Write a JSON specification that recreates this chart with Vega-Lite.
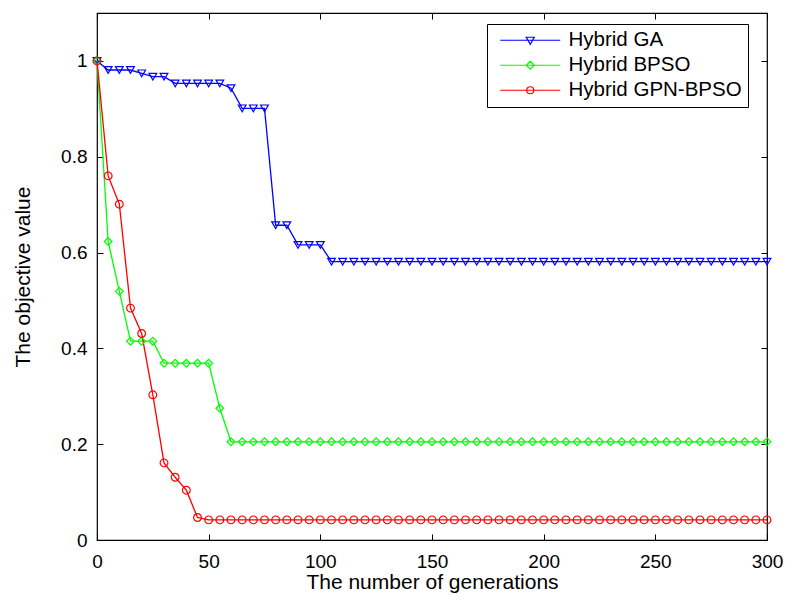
{
  "$schema": "https://vega.github.io/schema/vega-lite/v6.json",
  "autosize": {"type": "none"},
  "padding": {"left": 97, "top": 13, "right": 18, "bottom": 68},
  "width": 670,
  "height": 527,
  "background": "white",
  "config": {
    "view": {"stroke": "#000000", "strokeWidth": 1.2},
    "font": "Liberation Sans",
    "axis": {
      "domain": false,
      "grid": false,
      "labelFlush": false,
      "tickColor": "#000000",
      "tickSize": -6,
      "tickWidth": 1,
      "labelColor": "#000000",
      "labelFont": "Liberation Sans",
      "labelFontSize": 19,
      "titleFont": "Liberation Sans",
      "titleFontSize": 21,
      "titleFontWeight": "normal",
      "titleColor": "#000000"
    },
    "legend": {
      "labelFont": "Liberation Sans",
      "labelFontSize": 20.5,
      "labelColor": "#000000",
      "labelLimit": 400
    }
  },
  "data": {
    "values": [
      {"series": "Hybrid GA", "gen": 0, "value": 1},
      {"series": "Hybrid GA", "gen": 5, "value": 0.981},
      {"series": "Hybrid GA", "gen": 10, "value": 0.981},
      {"series": "Hybrid GA", "gen": 15, "value": 0.981},
      {"series": "Hybrid GA", "gen": 20, "value": 0.974},
      {"series": "Hybrid GA", "gen": 25, "value": 0.967},
      {"series": "Hybrid GA", "gen": 30, "value": 0.967},
      {"series": "Hybrid GA", "gen": 35, "value": 0.953},
      {"series": "Hybrid GA", "gen": 40, "value": 0.953},
      {"series": "Hybrid GA", "gen": 45, "value": 0.953},
      {"series": "Hybrid GA", "gen": 50, "value": 0.953},
      {"series": "Hybrid GA", "gen": 55, "value": 0.953},
      {"series": "Hybrid GA", "gen": 60, "value": 0.943},
      {"series": "Hybrid GA", "gen": 65, "value": 0.901},
      {"series": "Hybrid GA", "gen": 70, "value": 0.901},
      {"series": "Hybrid GA", "gen": 75, "value": 0.901},
      {"series": "Hybrid GA", "gen": 80, "value": 0.657},
      {"series": "Hybrid GA", "gen": 85, "value": 0.657},
      {"series": "Hybrid GA", "gen": 90, "value": 0.616},
      {"series": "Hybrid GA", "gen": 95, "value": 0.616},
      {"series": "Hybrid GA", "gen": 100, "value": 0.616},
      {"series": "Hybrid GA", "gen": 105, "value": 0.581},
      {"series": "Hybrid GA", "gen": 110, "value": 0.581},
      {"series": "Hybrid GA", "gen": 115, "value": 0.581},
      {"series": "Hybrid GA", "gen": 120, "value": 0.581},
      {"series": "Hybrid GA", "gen": 125, "value": 0.581},
      {"series": "Hybrid GA", "gen": 130, "value": 0.581},
      {"series": "Hybrid GA", "gen": 135, "value": 0.581},
      {"series": "Hybrid GA", "gen": 140, "value": 0.581},
      {"series": "Hybrid GA", "gen": 145, "value": 0.581},
      {"series": "Hybrid GA", "gen": 150, "value": 0.581},
      {"series": "Hybrid GA", "gen": 155, "value": 0.581},
      {"series": "Hybrid GA", "gen": 160, "value": 0.581},
      {"series": "Hybrid GA", "gen": 165, "value": 0.581},
      {"series": "Hybrid GA", "gen": 170, "value": 0.581},
      {"series": "Hybrid GA", "gen": 175, "value": 0.581},
      {"series": "Hybrid GA", "gen": 180, "value": 0.581},
      {"series": "Hybrid GA", "gen": 185, "value": 0.581},
      {"series": "Hybrid GA", "gen": 190, "value": 0.581},
      {"series": "Hybrid GA", "gen": 195, "value": 0.581},
      {"series": "Hybrid GA", "gen": 200, "value": 0.581},
      {"series": "Hybrid GA", "gen": 205, "value": 0.581},
      {"series": "Hybrid GA", "gen": 210, "value": 0.581},
      {"series": "Hybrid GA", "gen": 215, "value": 0.581},
      {"series": "Hybrid GA", "gen": 220, "value": 0.581},
      {"series": "Hybrid GA", "gen": 225, "value": 0.581},
      {"series": "Hybrid GA", "gen": 230, "value": 0.581},
      {"series": "Hybrid GA", "gen": 235, "value": 0.581},
      {"series": "Hybrid GA", "gen": 240, "value": 0.581},
      {"series": "Hybrid GA", "gen": 245, "value": 0.581},
      {"series": "Hybrid GA", "gen": 250, "value": 0.581},
      {"series": "Hybrid GA", "gen": 255, "value": 0.581},
      {"series": "Hybrid GA", "gen": 260, "value": 0.581},
      {"series": "Hybrid GA", "gen": 265, "value": 0.581},
      {"series": "Hybrid GA", "gen": 270, "value": 0.581},
      {"series": "Hybrid GA", "gen": 275, "value": 0.581},
      {"series": "Hybrid GA", "gen": 280, "value": 0.581},
      {"series": "Hybrid GA", "gen": 285, "value": 0.581},
      {"series": "Hybrid GA", "gen": 290, "value": 0.581},
      {"series": "Hybrid GA", "gen": 295, "value": 0.581},
      {"series": "Hybrid GA", "gen": 300, "value": 0.581},
      {"series": "Hybrid BPSO", "gen": 0, "value": 1},
      {"series": "Hybrid BPSO", "gen": 5, "value": 0.623},
      {"series": "Hybrid BPSO", "gen": 10, "value": 0.519},
      {"series": "Hybrid BPSO", "gen": 15, "value": 0.415},
      {"series": "Hybrid BPSO", "gen": 20, "value": 0.415},
      {"series": "Hybrid BPSO", "gen": 25, "value": 0.415},
      {"series": "Hybrid BPSO", "gen": 30, "value": 0.369},
      {"series": "Hybrid BPSO", "gen": 35, "value": 0.369},
      {"series": "Hybrid BPSO", "gen": 40, "value": 0.369},
      {"series": "Hybrid BPSO", "gen": 45, "value": 0.369},
      {"series": "Hybrid BPSO", "gen": 50, "value": 0.369},
      {"series": "Hybrid BPSO", "gen": 55, "value": 0.275},
      {"series": "Hybrid BPSO", "gen": 60, "value": 0.205},
      {"series": "Hybrid BPSO", "gen": 65, "value": 0.205},
      {"series": "Hybrid BPSO", "gen": 70, "value": 0.205},
      {"series": "Hybrid BPSO", "gen": 75, "value": 0.205},
      {"series": "Hybrid BPSO", "gen": 80, "value": 0.205},
      {"series": "Hybrid BPSO", "gen": 85, "value": 0.205},
      {"series": "Hybrid BPSO", "gen": 90, "value": 0.205},
      {"series": "Hybrid BPSO", "gen": 95, "value": 0.205},
      {"series": "Hybrid BPSO", "gen": 100, "value": 0.205},
      {"series": "Hybrid BPSO", "gen": 105, "value": 0.205},
      {"series": "Hybrid BPSO", "gen": 110, "value": 0.205},
      {"series": "Hybrid BPSO", "gen": 115, "value": 0.205},
      {"series": "Hybrid BPSO", "gen": 120, "value": 0.205},
      {"series": "Hybrid BPSO", "gen": 125, "value": 0.205},
      {"series": "Hybrid BPSO", "gen": 130, "value": 0.205},
      {"series": "Hybrid BPSO", "gen": 135, "value": 0.205},
      {"series": "Hybrid BPSO", "gen": 140, "value": 0.205},
      {"series": "Hybrid BPSO", "gen": 145, "value": 0.205},
      {"series": "Hybrid BPSO", "gen": 150, "value": 0.205},
      {"series": "Hybrid BPSO", "gen": 155, "value": 0.205},
      {"series": "Hybrid BPSO", "gen": 160, "value": 0.205},
      {"series": "Hybrid BPSO", "gen": 165, "value": 0.205},
      {"series": "Hybrid BPSO", "gen": 170, "value": 0.205},
      {"series": "Hybrid BPSO", "gen": 175, "value": 0.205},
      {"series": "Hybrid BPSO", "gen": 180, "value": 0.205},
      {"series": "Hybrid BPSO", "gen": 185, "value": 0.205},
      {"series": "Hybrid BPSO", "gen": 190, "value": 0.205},
      {"series": "Hybrid BPSO", "gen": 195, "value": 0.205},
      {"series": "Hybrid BPSO", "gen": 200, "value": 0.205},
      {"series": "Hybrid BPSO", "gen": 205, "value": 0.205},
      {"series": "Hybrid BPSO", "gen": 210, "value": 0.205},
      {"series": "Hybrid BPSO", "gen": 215, "value": 0.205},
      {"series": "Hybrid BPSO", "gen": 220, "value": 0.205},
      {"series": "Hybrid BPSO", "gen": 225, "value": 0.205},
      {"series": "Hybrid BPSO", "gen": 230, "value": 0.205},
      {"series": "Hybrid BPSO", "gen": 235, "value": 0.205},
      {"series": "Hybrid BPSO", "gen": 240, "value": 0.205},
      {"series": "Hybrid BPSO", "gen": 245, "value": 0.205},
      {"series": "Hybrid BPSO", "gen": 250, "value": 0.205},
      {"series": "Hybrid BPSO", "gen": 255, "value": 0.205},
      {"series": "Hybrid BPSO", "gen": 260, "value": 0.205},
      {"series": "Hybrid BPSO", "gen": 265, "value": 0.205},
      {"series": "Hybrid BPSO", "gen": 270, "value": 0.205},
      {"series": "Hybrid BPSO", "gen": 275, "value": 0.205},
      {"series": "Hybrid BPSO", "gen": 280, "value": 0.205},
      {"series": "Hybrid BPSO", "gen": 285, "value": 0.205},
      {"series": "Hybrid BPSO", "gen": 290, "value": 0.205},
      {"series": "Hybrid BPSO", "gen": 295, "value": 0.205},
      {"series": "Hybrid BPSO", "gen": 300, "value": 0.205},
      {"series": "Hybrid GPN-BPSO", "gen": 0, "value": 1},
      {"series": "Hybrid GPN-BPSO", "gen": 5, "value": 0.76},
      {"series": "Hybrid GPN-BPSO", "gen": 10, "value": 0.701},
      {"series": "Hybrid GPN-BPSO", "gen": 15, "value": 0.484},
      {"series": "Hybrid GPN-BPSO", "gen": 20, "value": 0.431},
      {"series": "Hybrid GPN-BPSO", "gen": 25, "value": 0.303},
      {"series": "Hybrid GPN-BPSO", "gen": 30, "value": 0.161},
      {"series": "Hybrid GPN-BPSO", "gen": 35, "value": 0.131},
      {"series": "Hybrid GPN-BPSO", "gen": 40, "value": 0.104},
      {"series": "Hybrid GPN-BPSO", "gen": 45, "value": 0.047},
      {"series": "Hybrid GPN-BPSO", "gen": 50, "value": 0.042},
      {"series": "Hybrid GPN-BPSO", "gen": 55, "value": 0.042},
      {"series": "Hybrid GPN-BPSO", "gen": 60, "value": 0.042},
      {"series": "Hybrid GPN-BPSO", "gen": 65, "value": 0.042},
      {"series": "Hybrid GPN-BPSO", "gen": 70, "value": 0.042},
      {"series": "Hybrid GPN-BPSO", "gen": 75, "value": 0.042},
      {"series": "Hybrid GPN-BPSO", "gen": 80, "value": 0.042},
      {"series": "Hybrid GPN-BPSO", "gen": 85, "value": 0.042},
      {"series": "Hybrid GPN-BPSO", "gen": 90, "value": 0.042},
      {"series": "Hybrid GPN-BPSO", "gen": 95, "value": 0.042},
      {"series": "Hybrid GPN-BPSO", "gen": 100, "value": 0.042},
      {"series": "Hybrid GPN-BPSO", "gen": 105, "value": 0.042},
      {"series": "Hybrid GPN-BPSO", "gen": 110, "value": 0.042},
      {"series": "Hybrid GPN-BPSO", "gen": 115, "value": 0.042},
      {"series": "Hybrid GPN-BPSO", "gen": 120, "value": 0.042},
      {"series": "Hybrid GPN-BPSO", "gen": 125, "value": 0.042},
      {"series": "Hybrid GPN-BPSO", "gen": 130, "value": 0.042},
      {"series": "Hybrid GPN-BPSO", "gen": 135, "value": 0.042},
      {"series": "Hybrid GPN-BPSO", "gen": 140, "value": 0.042},
      {"series": "Hybrid GPN-BPSO", "gen": 145, "value": 0.042},
      {"series": "Hybrid GPN-BPSO", "gen": 150, "value": 0.042},
      {"series": "Hybrid GPN-BPSO", "gen": 155, "value": 0.042},
      {"series": "Hybrid GPN-BPSO", "gen": 160, "value": 0.042},
      {"series": "Hybrid GPN-BPSO", "gen": 165, "value": 0.042},
      {"series": "Hybrid GPN-BPSO", "gen": 170, "value": 0.042},
      {"series": "Hybrid GPN-BPSO", "gen": 175, "value": 0.042},
      {"series": "Hybrid GPN-BPSO", "gen": 180, "value": 0.042},
      {"series": "Hybrid GPN-BPSO", "gen": 185, "value": 0.042},
      {"series": "Hybrid GPN-BPSO", "gen": 190, "value": 0.042},
      {"series": "Hybrid GPN-BPSO", "gen": 195, "value": 0.042},
      {"series": "Hybrid GPN-BPSO", "gen": 200, "value": 0.042},
      {"series": "Hybrid GPN-BPSO", "gen": 205, "value": 0.042},
      {"series": "Hybrid GPN-BPSO", "gen": 210, "value": 0.042},
      {"series": "Hybrid GPN-BPSO", "gen": 215, "value": 0.042},
      {"series": "Hybrid GPN-BPSO", "gen": 220, "value": 0.042},
      {"series": "Hybrid GPN-BPSO", "gen": 225, "value": 0.042},
      {"series": "Hybrid GPN-BPSO", "gen": 230, "value": 0.042},
      {"series": "Hybrid GPN-BPSO", "gen": 235, "value": 0.042},
      {"series": "Hybrid GPN-BPSO", "gen": 240, "value": 0.042},
      {"series": "Hybrid GPN-BPSO", "gen": 245, "value": 0.042},
      {"series": "Hybrid GPN-BPSO", "gen": 250, "value": 0.042},
      {"series": "Hybrid GPN-BPSO", "gen": 255, "value": 0.042},
      {"series": "Hybrid GPN-BPSO", "gen": 260, "value": 0.042},
      {"series": "Hybrid GPN-BPSO", "gen": 265, "value": 0.042},
      {"series": "Hybrid GPN-BPSO", "gen": 270, "value": 0.042},
      {"series": "Hybrid GPN-BPSO", "gen": 275, "value": 0.042},
      {"series": "Hybrid GPN-BPSO", "gen": 280, "value": 0.042},
      {"series": "Hybrid GPN-BPSO", "gen": 285, "value": 0.042},
      {"series": "Hybrid GPN-BPSO", "gen": 290, "value": 0.042},
      {"series": "Hybrid GPN-BPSO", "gen": 295, "value": 0.042},
      {"series": "Hybrid GPN-BPSO", "gen": 300, "value": 0.042}
    ]
  },
  "layer": [
    {
      "mark": {"type": "line", "strokeWidth": 1.3},
      "encoding": {
        "x": {
          "field": "gen", "type": "quantitative",
          "scale": {"domain": [0, 300], "nice": false, "zero": false},
          "axis": {"title": "The number of generations", "values": [0, 50, 100, 150, 200, 250, 300], "labelPadding": 18, "titlePadding": 0}
        },
        "y": {
          "field": "value", "type": "quantitative",
          "scale": {"domain": [0, 1.1], "nice": false},
          "axis": {"title": "The objective value", "values": [0, 0.2, 0.4, 0.6, 0.8, 1], "format": "~g", "labelPadding": 16, "titlePadding": 27}
        },
        "color": {
          "field": "series", "type": "nominal",
          "scale": {"domain": ["Hybrid GA", "Hybrid BPSO", "Hybrid GPN-BPSO"], "range": ["#0000ff", "#00ff00", "#ff0000"]},
          "legend": null
        }
      }
    },
    {
      "mark": {"type": "point", "filled": false, "size": 60, "strokeWidth": 1.2, "opacity": 1},
      "encoding": {
        "x": {"field": "gen", "type": "quantitative", "axis": {"orient": "top", "labels": false, "title": null, "values": [0, 50, 100, 150, 200, 250, 300]}},
        "y": {"field": "value", "type": "quantitative", "axis": {"orient": "right", "labels": false, "title": null, "values": [0, 0.2, 0.4, 0.6, 0.8, 1]}},
        "color": {
          "field": "series", "type": "nominal",
          "scale": {"domain": ["Hybrid GA", "Hybrid BPSO", "Hybrid GPN-BPSO"], "range": ["#0000ff", "#00ff00", "#ff0000"]},
          "legend": null
        },
        "shape": {
          "field": "series", "type": "nominal",
          "scale": {"domain": ["Hybrid GA", "Hybrid BPSO", "Hybrid GPN-BPSO"], "range": ["triangle-down", "diamond", "circle"]},
          "legend": null
        }
      }
    },
    {
      "transform": [{"filter": "datum.gen < 0"}],
      "mark": {"type": "point", "filled": false, "strokeWidth": 1.2, "opacity": 1},
      "encoding": {
        "x": {"field": "gen", "type": "quantitative", "axis": null},
        "y": {"field": "value", "type": "quantitative", "axis": null},
        "color": {
          "field": "series", "type": "nominal",
          "scale": {"domain": ["Hybrid GA", "Hybrid BPSO", "Hybrid GPN-BPSO"], "range": ["#0000ff", "#00ff00", "#ff0000"]},
          "legend": {
            "title": null, "orient": "none", "legendX": 390, "legendY": 11,
            "strokeColor": "#000000", "fillColor": "#ffffff", "padding": 6,
            "symbolSize": 100, "symbolStrokeWidth": 1.2, "symbolOffset": 27, "labelOffset": 28, "rowPadding": 4
          }
        },
        "shape": {
          "field": "series", "type": "nominal",
          "scale": {"domain": ["Hybrid GA", "Hybrid BPSO", "Hybrid GPN-BPSO"], "range": [
            "M-6,0H6M-0.8,-0.6L0.8,-0.6L0,0.8Z",
            "M-6,0H6M0,-0.8L0.8,0L0,0.8L-0.8,0Z",
            "M-6,0H6M0.7,0A0.7,0.7 0 1,1 -0.7,0A0.7,0.7 0 1,1 0.7,0Z"
          ]},
          "legend": {
            "title": null, "orient": "none", "legendX": 390, "legendY": 11,
            "strokeColor": "#000000", "fillColor": "#ffffff", "padding": 6,
            "symbolSize": 100, "symbolStrokeWidth": 1.2, "symbolOffset": 27, "labelOffset": 28, "rowPadding": 4
          }
        }
      }
    }
  ],
  "resolve": {
    "scale": {"color": "independent", "shape": "independent"},
    "axis": {"x": "independent", "y": "independent"}
  }
}
